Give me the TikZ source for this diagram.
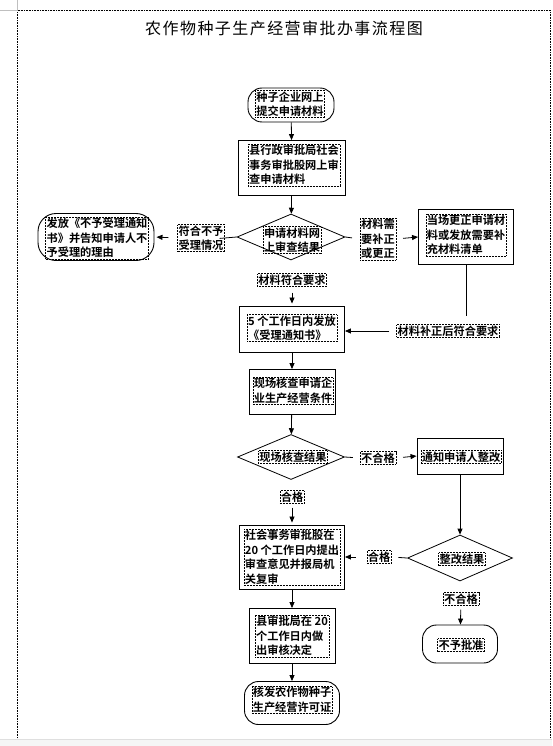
\documentclass[tikz,border=0pt]{standalone}
\usepackage{fontspec}
\setmainfont{Noto Sans CJK SC}[BoldFont={Noto Sans CJK SC Bold}]
\usetikzlibrary{shapes.geometric,arrows.meta}

\begin{document}
\begin{tikzpicture}[x=1pt,y=-1pt,
  every node/.style={font=\bfseries\fontsize{11.2}{14.5}\selectfont},
  frame/.style={draw,line width=.9pt,inner sep=0pt},
  roundframe/.style={frame,rounded corners=14pt},
  decide/.style={draw,line width=.8pt,diamond,inner sep=0pt},
  txt/.style={draw,densely dotted,line width=.5pt,inner sep=1pt,align=left},
  flow/.style={line width=.8pt,-{Triangle[length=6pt,width=5pt]}},
  link/.style={line width=.8pt}]

\useasboundingbox (0,0) rectangle (552,746);

%page margins
\draw [densely dotted,line width=.6pt] (17.5,10.5) -- (17.5,739);
\draw [densely dotted,line width=.6pt] (17.5,10.5) -- (550,10.5);
\draw [densely dotted,line width=.6pt] (550,10.5) -- (550,739);
\draw [gray!50] (0,10.5) -- (17.5,10.5) -- (17.5,0);
\fill [gray!8] (0,739) rectangle (552,746);
\draw [gray!25] (0,739) -- (552,739);

%title
\node [font=\mdseries\fontsize{16}{18}\selectfont\addfontfeature{LetterSpace=9}] (title) at (284,28) {农作物种子生产经营审批办事流程图};

%%%%%% main column

%apply online
\node [roundframe,minimum width=86,minimum height=34] (apply) at (291,105) {};
\node [txt] (applyT) at (290,104) {种子企业网上\\提交申请材料};

%online review
\node [frame,minimum width=107,minimum height=55] (review) at (292,168) {};
\node [txt] (reviewT) at (294,165) {县行政审批局社会\\事务审批股网上审\\查申请材料};

%review result
\node [decide,minimum width=108,minimum height=46] (check) at (291,237) {};
\node [txt] (checkT) at (292,240) {申请材料网\\上审查结果};

%accept notice
\node [frame,minimum width=105,minimum height=46] (accept) at (292,329) {};
\node [txt] (acceptT) at (292,328) {5 个工作日内发放\\《受理通知书》};

%site check
\node [frame,minimum width=86,minimum height=45] (site) at (292,392) {};
\node [txt] (siteT) at (293,391) {现场核查申请企\\业生产经营条件};

%site result
\node [decide,minimum width=107,minimum height=45] (siteres) at (291,457) {};
\node [txt] (siteresT) at (293,457) {现场核查结果};

%bureau review
\node [frame,minimum width=105,minimum height=64] (bureau) at (292,557) {};
\node [txt] (bureauT) at (292,557) {社会事务审批股在\\20 个工作日内提出\\审查意见并报局机\\关复审};

%decision
\node [frame,minimum width=86,minimum height=55] (decision) at (292,636) {};
\node [txt] (decisionT) at (292,636) {县审批局在 20\\个工作日内做\\出审核决定};

%licence
\node [roundframe,minimum width=95,minimum height=43] (licence) at (292,703) {};
\node [txt] (licenceT) at (292,700) {核发农作物种子\\生产经营许可证};

%%%%%% side boxes

%reject
\node [roundframe,minimum width=116,minimum height=47,rounded corners=18pt] (reject) at (96,237) {};
\node [txt] (rejectT) at (97,238) {发放《不予受理通知\\书》并告知申请人不\\予受理的理由};

%correct on site
\node [frame,minimum width=95,minimum height=55] (correct) at (466,237) {};
\node [txt] (correctT) at (466,235) {当场更正申请材\\料或发放需要补\\充材料清单};

%notify
\node [frame,minimum width=86,minimum height=36] (notify) at (460,456) {};
\node [txt] (notifyT) at (461,457) {通知申请人整改};

%rectify result
\node [decide,minimum width=105,minimum height=46] (rectify) at (460,558) {};
\node [txt] (rectifyT) at (462,559) {整改结果};

%deny
\node [roundframe,minimum width=75,minimum height=38] (deny) at (460,644) {};
\node [txt] (denyT) at (461,645) {不予批准};

%%%%%% labels
\node [txt] (noAccept) at (201,238) {符合不予\\受理情况};
\node [txt] (needFix) at (378,239) {材料需\\要补正\\或更正};
\node [txt] (fixOk) at (448,331) {材料补正后符合要求};
\node [txt] (matOk) at (292,280) {材料符合要求};
\node [txt] (siteFail) at (378,458) {不合格};
\node [txt] (sitePass) at (292,497) {合格};
\node [txt] (rectPass) at (379,557) {合格};
\node [txt] (rectFail) at (461,599) {不合格};

%%%%%% connectors
\draw [flow] (apply) -- (review);
\draw [flow] (review) -- (check);
\draw [link,shorten >=-5pt] (check.west) -- (noAccept.east);
\draw [flow,shorten <=9pt,shorten >=2pt] (noAccept.west) -- (reject.east);
\draw [link,shorten >=8pt] (check.east) -- (needFix.west);
\draw [flow,shorten <=7pt] (needFix.east) -- (correct.west);
\draw [link,shorten >=8pt] (correct.south) -- (correct.south |- fixOk.north);
\draw [flow,shorten <=7pt] (fixOk.west) -- (accept.east |- fixOk.west);
\draw [flow,shorten <=6pt,shorten >=2pt] (matOk) -- (accept);
\draw [flow] (accept) -- (site);
\draw [flow] (site) -- (siteres);
\draw [link,shorten >=7pt] (siteres.east) -- (siteFail.west);
\draw [flow,shorten <=7pt] (siteFail.east) -- (notify.west);
\draw [flow,shorten <=4pt,shorten >=2pt] (sitePass) -- (bureau);
\draw [flow] (notify) -- (rectify);
\draw [link,shorten >=7pt] (rectify.west) -- (rectPass.east);
\draw [flow,shorten <=11pt] (rectPass.west) -- (bureau.east);
\draw [flow,shorten <=4pt] (rectFail) -- (deny);
\draw [flow] (bureau) -- (decision);
\draw [flow] (decision) -- (licence);

\end{tikzpicture}
\end{document}
